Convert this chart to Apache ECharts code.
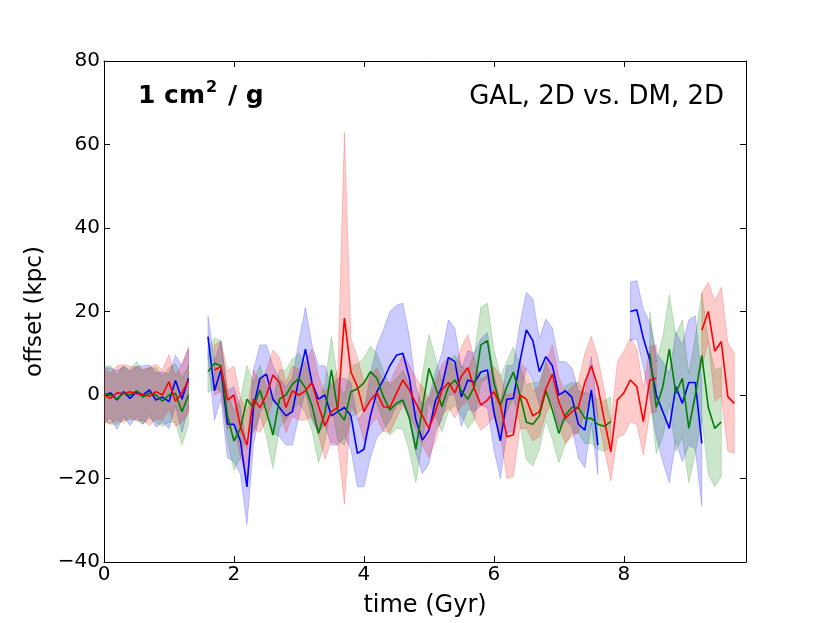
<!DOCTYPE html>
<html>
<head>
<meta charset="utf-8">
<script src="https://cdn.jsdelivr.net/npm/echarts@6/dist/echarts.min.js"></script>
<style>
  html, body { margin: 0; padding: 0; background: #fff; }
  #chart { width: 830px; height: 623px; }
</style>
</head>
<body>
<div id="chart"></div>
<script>
// time grid (Gyr), one sample every 0.1
const time = [
  0.0, 0.1, 0.2, 0.3, 0.4, 0.5, 0.6, 0.7, 0.8, 0.9,
  1.0, 1.1, 1.2, 1.3, 1.4, 1.5, 1.6, 1.7, 1.8, 1.9,
  2.0, 2.1, 2.2, 2.3, 2.4, 2.5, 2.6, 2.7, 2.8, 2.9,
  3.0, 3.1, 3.2, 3.3, 3.4, 3.5, 3.6, 3.7, 3.8, 3.9,
  4.0, 4.1, 4.2, 4.3, 4.4, 4.5, 4.6, 4.7, 4.8, 4.9,
  5.0, 5.1, 5.2, 5.3, 5.4, 5.5, 5.6, 5.7, 5.8, 5.9,
  6.0, 6.1, 6.2, 6.3, 6.4, 6.5, 6.6, 6.7, 6.8, 6.9,
  7.0, 7.1, 7.2, 7.3, 7.4, 7.5, 7.6, 7.7, 7.8, 7.9,
  8.0, 8.1, 8.2, 8.3, 8.4, 8.5, 8.6, 8.7, 8.8, 8.9,
  9.0, 9.1, 9.2, 9.3, 9.4, 9.5, 9.6, 9.7
];

// mean offset (kpc), null = no data
const blueMean = [
  0, 0.5, -1.2, 0.8, -0.8, 0.8, 0, 1.2, -1.2, -0.5,
  -1.6, 3.5, -1, 4, null, null, 14, 1, 6, -7,
  -7, -11, -22, -3, 4, 5, -1, -3, -5, -4,
  4, 11, 3, -1, 0, -5, -4, -3, -5, -14,
  -13, -5, 0.8, 3.6, 7, 9.5, 10, 4, -6, -10.8,
  -8.5, -1.5, 2, 9, 8, -0.5, 3.6, 3, 5.5, 6,
  -4, -11, -1, -0.8, 8, 15.6, 13, 5.6, 9.2, 7,
  0, 1, -0.5, -7, -8.4, 1.2, -12, null, null, null,
  null, 20, 20.4, 13.6, 8.4, 0, -4, -8, 2, -2,
  3, 3, -11.6, null, null, null, null, null
];
const greenMean = [
  0.3, 0, -1, 0.5, 0, 1, -0.5, 0.5, 0, -1.5,
  0, 0.4, -4, 0, null, null, 5.6, 7.6, 7, -5,
  -11, -8, -1, -3, 1.2, -4, -9.6, -1, 0, 2.6,
  4, 1.7, -2.5, -9.2, -4.3, 6, -4, -6, 0.8, 1.5,
  2.9, 5.6, 4, -0.4, -3.6, -2, -1.2, -5.5, -13, -3,
  6.4, 2, -2.8, 2, 3.6, 1, -1, 2, 12, 13,
  3, -2.5, 2, 5.5, 0, -6.5, -7, -5, 1, -3.6,
  -9.2, -4.8, -3, -3, -5.6, -5.6, -7, -7.5, -6.4, null,
  null, null, null, null, 10, -3, 2, 11, 0.4, 4,
  -8, 0, 9.5, -3, -8, -6.4, null, null
];
const redMean = [
  0, -0.8, 0.5, 0.3, 0.8, 0.3, 0, -0.3, 0.8, 0,
  3.2, -1.5, 0.5, 3.5, null, null, null, 6, 6.8, -1.2,
  0, -7.6, -12, -1, -3, 0, 4.8, 3, -3, 1,
  0, 1, 3, -2.5, -7.4, -4, -3, 18.4, 5.5, 2,
  -4, -1.2, 0.5, -2.8, -3, 0.4, 3.6, 1.2, -2, -5,
  -8, -4, 1.2, 3, 0.5, 4.5, 6.5, 1.5, -2.4, -1.2,
  0.8, -2.5, -10, -9.5, 0, -1, -5, -4, 1.5, 5,
  -1.6, -5.6, -4, -3, 3, 7, 2, -6, -13.6, -1.2,
  0.5, 3.6, 2, -6.4, 3.6, 4, null, null, null, null,
  null, null, 15.5, 20, 10.5, 12.8, -0.4, -2
];

// half-width of the shaded spread (kpc)
const blueErr = [
  6.5, 6, 7, 6, 6.5, 6, 7, 6, 6.5, 6,
  6.5, 6, 8, 7, null, null, 5, 7, 7, 8,
  9, 8, 9, 9, 8, 7, 8, 7, 7, 8,
  9, 10, 9, 8, 7, 7, 8, 7, 8, 8,
  9, 10, 11, 12, 13, 12, 12, 10, 8, 8,
  8, 7, 8, 9, 8, 7, 7, 7, 8, 9,
  9, 9, 8, 8, 9, 9, 10, 8, 9, 9,
  8, 7, 7, 8, 9, 8, 7, null, null, null,
  null, 7, 7, 7, 9, 10, 12, 13, 13, 14,
  15, 16, 15, null, null, null, null, null
];
const greenErr = [
  6.5, 7, 6, 6.5, 6, 7, 6.5, 6, 6.5, 6,
  6.5, 7, 8, 7, null, null, 5, 6, 6, 6,
  7, 7, 8, 6, 6, 6, 8, 7, 6, 6,
  6, 6, 6, 7, 7, 8, 7, 6, 6, 6,
  6, 6, 6, 6, 6, 6, 7, 8, 8, 8,
  8, 7, 6, 6, 6, 6, 7, 8, 9, 9,
  8, 7, 6, 6, 7, 9, 10, 8, 7, 7,
  7, 7, 6, 6, 6, 6, 6, 6, 6, null,
  null, null, null, null, 10, 11, 12, 13, 14, 14,
  13, 14, 15, 16, 14, 13, null, null
];
const redErr = [
  6.5, 6, 6.5, 7, 6, 6.5, 6, 7, 6.5, 6,
  6.5, 6, 7, 8, null, null, null, 6, 6, 7,
  7, 7, 8, 7, 6, 6, 6, 6, 6, 6,
  6, 7, 8, 7, 8, 7, 9, 44.5, 8, 7,
  7, 6, 6, 6, 6, 6, 6, 6, 6, 7,
  7, 7, 6, 6, 6, 7, 8, 7, 6, 6,
  6, 7, 10, 10, 8, 7, 6, 6, 6, 7,
  6, 6, 6, 6, 7, 7, 7, 7, 7, 9,
  10, 10, 9, 8, 8, 8, null, null, null, null,
  null, null, 9, 7, 12, 13, 13, 12
];

const yTicks = [-40, -20, 0, 20, 40, 60, 80];

const groups = [
  { color: '#0000ff', fill: 'rgba(0,0,255,0.2)', mean: blueMean, err: blueErr },
  { color: '#008000', fill: 'rgba(0,128,0,0.2)', mean: greenMean, err: greenErr },
  { color: '#ff0000', fill: 'rgba(255,0,0,0.2)', mean: redMean, err: redErr }
];

// contiguous runs of non-null samples -> [start, end]
const runsOf = (arr) => {
  const runs = [];
  let s = -1;
  arr.forEach((v, i) => {
    if (v != null && s < 0) s = i;
    if ((v == null || i === arr.length - 1) && s >= 0) {
      runs.push([s, v == null ? i - 1 : i]);
      s = -1;
    }
  });
  return runs;
};

const bandSeries = groups.map(g => ({
  type: 'custom',
  silent: true,
  clip: true,
  z: 1,
  data: runsOf(g.mean),
  renderItem: (params, api) => {
    const a = api.value(0), b = api.value(1);
    const up = [], lo = [];
    for (let i = a; i <= b; i++) {
      up.push(api.coord([time[i], g.mean[i] + g.err[i]]));
      lo.push(api.coord([time[i], g.mean[i] - g.err[i]]));
    }
    return {
      type: 'polygon',
      shape: { points: up.concat(lo.reverse()) },
      style: { fill: g.fill, stroke: g.fill, lineWidth: 1 }
    };
  }
}));

const lineSeries = groups.map(g => ({
  type: 'line',
  z: 3,
  symbol: 'none',
  silent: true,
  animation: false,
  connectNulls: false,
  lineStyle: { color: g.color, width: 1.6 },
  data: g.mean.map((v, i) => [time[i], v == null ? '-' : v])
}));

const font = 'DejaVu Sans';
const minus = (v) => (v < 0 ? '\u2212' + Math.abs(v) : String(v));

// shared axis frame pieces
const frameLine = { show: true, onZero: false, lineStyle: { color: '#000', width: 1 } };
const frameTick = { show: true, inside: true, length: 6, lineStyle: { color: '#000' } };

const chart = echarts.init(document.getElementById('chart'), null, { renderer: 'canvas' });
chart.setOption({
  animation: false,
  backgroundColor: '#fff',
  grid: { left: 104, top: 61, width: 642, height: 501, containLabel: false, outerBoundsMode: 'none' },
  xAxis: [
    {
      type: 'value', min: 0, max: 9.88, interval: 2, position: 'bottom',
      name: 'time (Gyr)', nameLocation: 'middle', nameGap: 32,
      nameTextStyle: { fontFamily: font, fontSize: 24, color: '#000' },
      axisLine: frameLine,
      axisTick: frameTick,
      axisLabel: { fontFamily: font, fontSize: 20, color: '#000', margin: 3, showMaxLabel: false },
      splitLine: { show: false }
    },
    {
      type: 'value', min: 0, max: 9.88, interval: 2, position: 'top',
      axisLine: frameLine,
      axisTick: frameTick,
      axisLabel: { show: false },
      splitLine: { show: false }
    }
  ],
  yAxis: [
    {
      type: 'value', min: -40, max: 80, interval: 20, position: 'left',
      name: 'offset (kpc)', nameLocation: 'middle', nameGap: 53, nameRotate: 90,
      nameTextStyle: { fontFamily: font, fontSize: 23, color: '#000' },
      axisLine: frameLine,
      axisTick: frameTick,
      axisLabel: { fontFamily: font, fontSize: 20, color: '#000', margin: 4,
        formatter: (v) => (yTicks.includes(v) ? minus(v) : '') },
      splitLine: { show: false }
    },
    {
      type: 'value', min: -40, max: 80, interval: 20, position: 'right',
      axisLine: frameLine,
      axisTick: frameTick,
      axisLabel: { show: false },
      splitLine: { show: false }
    }
  ],
  series: bandSeries.concat(lineSeries),
  graphic: [
    { type: 'text', left: 138, top: 84, z: 10,
      style: { text: '1 cm', font: 'bold 25px "DejaVu Sans"', fill: '#000' } },
    { type: 'text', left: 206, top: 80, z: 10,
      style: { text: '2', font: 'bold 16px "DejaVu Sans"', fill: '#000' } },
    { type: 'text', left: 228, top: 84, z: 10,
      style: { text: '/ g', font: 'bold 25px "DejaVu Sans"', fill: '#000' } },
    { type: 'text', right: 106, top: 84, z: 10,
      style: { text: 'GAL, 2D vs. DM, 2D', font: '26px "DejaVu Sans"', fill: '#000' } }
  ]
});
</script>
</body>
</html>
